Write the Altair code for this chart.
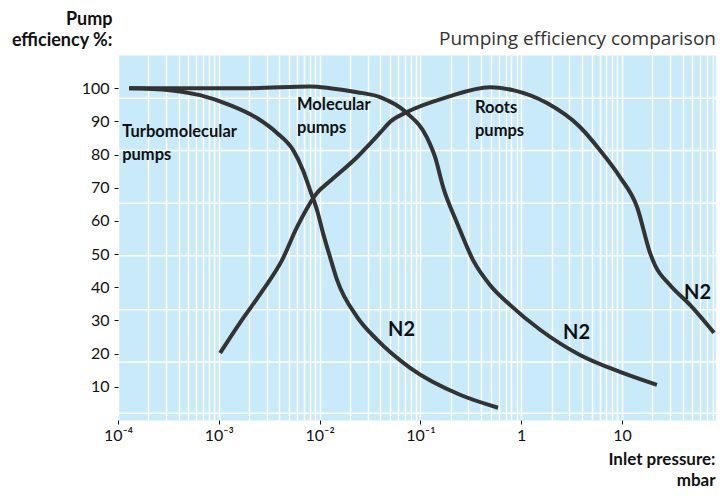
import altair as alt
import pandas as pd

# Turbomolecular pump curve (N2)
turbo_p = [1.29e-4, 3.28e-4, 6.5e-4, 1.29e-3, 2.39e-3, 3.78e-3, 5.45e-3, 6.84e-3, 8.04e-3,
           9.42e-3, 0.0108, 0.0127, 0.0149, 0.0235, 0.0371, 0.0789, 0.247, 0.589]
turbo_eff = [100, 99.4, 97.9, 94.9, 91.0, 86.5, 81.4, 75.3, 69.3,
             63.3, 56.4, 49.1, 42.2, 31.1, 24.2, 15.7, 7.6, 3.7]

# Molecular pump curve (N2)
mol_p = [1.29e-4, 2.04e-3, 8.04e-3, 0.0127, 0.0235, 0.0397, 0.0736, 0.116, 0.140,
         0.168, 0.231, 0.333, 0.490, 0.774, 1.54, 3.83, 9.55, 22.2]
mol_eff = [100, 100, 100.5, 100, 98.8, 97.3, 92.5, 85.2, 79.2,
           70.2, 59.4, 48.2, 40.7, 34.7, 27.2, 19.6, 14.5, 10.6]

# Roots pump curve (N2)
roots_p = [1.03e-3, 1.62e-3, 2.75e-3, 4.24e-3, 5.97e-3, 9.42e-3, 0.0127, 0.0235, 0.0397,
           0.0499, 0.0736, 0.184, 0.490, 0.830, 1.80, 3.83, 6.05, 9.55, 14.1, 19.0,
           21.2, 29.9, 47.3, 81.8]
roots_eff = [20.2, 29.3, 39.2, 48.2, 58.1, 68.4, 72.0, 79.2, 86.5,
             89.8, 92.8, 97.3, 100.3, 99.4, 95.5, 88.3, 81.3, 73.2, 64.2, 50.3,
             46.7, 40.7, 34.7, 26.3]

# Annotations
ann_text = ["Turbomolecular\npumps", "Molecular\npumps", "Roots\npumps", "N2", "N2", "N2"]
ann_p = [1.1e-4, 5.97e-3, 0.348, 0.0478, 2.60, 41.2]
ann_eff = [86.8, 94.9, 94.0, 27.2, 26.2, 38.3]
ann_size = [16.5, 16.5, 16.5, 20, 20, 20]

# Axis values
x_max = 85.6
y_ticks = [10, 20, 30, 40, 50, 60, 70, 80, 90, 100]
x_grid = [m * 10.0 ** d for d in range(-4, 2) for m in range(1, 10) if m * 10.0 ** d <= x_max]
y_grid = [2, 17.5, 33.2, 49.5, 65.3, 81.2, 97]

df = pd.concat([
    pd.DataFrame({"p": turbo_p, "eff": turbo_eff, "series": "Turbomolecular"}),
    pd.DataFrame({"p": mol_p, "eff": mol_eff, "series": "Molecular"}),
    pd.DataFrame({"p": roots_p, "eff": roots_eff, "series": "Roots"}),
])
ann_df = pd.DataFrame({"p": ann_p, "eff": ann_eff, "txt": ann_text, "size": ann_size})
grid_df = pd.DataFrame({"eff": y_grid})

xscale = alt.Scale(type="log", domain=[1e-4, x_max], nice=False)
yscale = alt.Scale(domain=[0, 110], nice=False, zero=False)

decade = "abs(log(datum.value)/LN10 - round(log(datum.value)/LN10)) < 0.01"
label_expr = (decade + " ? (datum.value >= 1 ? format(datum.value, 'd') : '\u00a0\u00a0' + '10' + "
              "['', '⁻¹', '⁻²', '⁻³', '⁻⁴'][round(-log(datum.value)/LN10)]) : ''")

xaxis = alt.Axis(values=x_grid, labelExpr=label_expr, grid=True, gridColor="white",
                 gridWidth=1.5, gridOpacity=1, domain=False, tickColor="#111",
                 tickOpacity={"condition": {"test": decade, "value": 1}, "value": 0},
                 tickSize=4, labelFont="Lato", labelFontSize=16, labelColor="#111",
                 labelPadding=3, labelFlush=False, labelOverlap=False,
                 title=["Inlet pressure:", "mbar"], titleFont="Lato", titleFontWeight="bold",
                 titleFontSize=17, titleColor="#111", titleAlign="right", titleX=597,
                 titleY=31, titleBaseline="top", titleLineHeight=21)
yaxis = alt.Axis(values=y_ticks, grid=False, domain=False, tickColor="#111", tickSize=4,
                 labelFont="Lato", labelFontSize=16, labelColor="#111", labelPadding=5,
                 title=["Pump", "efficiency %:"], titleFont="Lato", titleFontWeight="bold",
                 titleFontSize=18, titleColor="#111", titleAngle=0, titleAlign="right",
                 titleBaseline="bottom", titleX=-6, titleY=-27, titleLineHeight=21)


def X(f):
    return alt.X(f, type="quantitative", scale=xscale, axis=xaxis)


def Y(f):
    return alt.Y(f, type="quantitative", scale=yscale, axis=yaxis)


rules = alt.Chart(grid_df).mark_rule(color="white", strokeWidth=1.5).encode(y=Y("eff"))

lines = alt.Chart(df).mark_line(strokeWidth=4, color="#333333", interpolate="monotone").encode(
    x=X("p"), y=Y("eff"), detail="series:N", order="p:Q"
)

labels = alt.Chart(ann_df).mark_text(
    align="left", baseline="middle", lineBreak="\n", font="Lato", fontWeight="bold",
    lineHeight=23, color="#111"
).encode(x=X("p"), y=Y("eff"), text="txt:N", size=alt.Size("size:Q", scale=None, legend=None))

chart = alt.layer(rules, lines, labels).properties(
    width=598, height=365,
    autosize=alt.AutoSizeParams(type="none"),
    padding={"left": 110, "top": 47, "right": 0, "bottom": 68},
    title=alt.TitleParams("Pumping efficiency comparison", anchor="end", font="Open Sans",
                          fontSize=19, fontWeight="normal", color="#333333", offset=10,
                          dx=-6, dy=49),
).configure_view(fill="#c9eaf9", stroke="transparent")

chart.save("out.html", embed_options={"renderer": "svg", "actions": False})
